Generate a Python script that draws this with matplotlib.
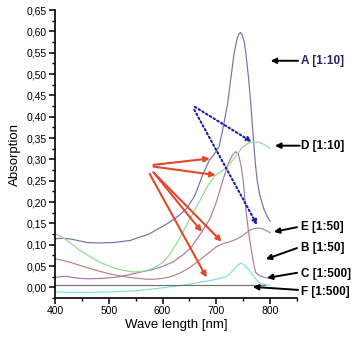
import matplotlib
matplotlib.use("Agg")
import matplotlib.pyplot as plt
from matplotlib.ticker import MultipleLocator, FuncFormatter

plt.rcParams['font.family'] = ['Liberation Sans', 'DejaVu Sans']

# ---- data ----
A_x = [400, 415, 430, 445, 460, 480, 510, 540, 575, 610, 630, 645, 660, 675, 687, 695, 705, 712, 721, 727, 733, 738, 742, 745, 748, 752, 755, 760, 764, 767, 770, 773, 776, 781, 788, 795, 800]
A_y = [0.114, 0.115, 0.113, 0.109, 0.105, 0.104, 0.105, 0.110, 0.125, 0.150, 0.168, 0.185, 0.215, 0.265, 0.298, 0.310, 0.330, 0.370, 0.431, 0.490, 0.548, 0.580, 0.594, 0.597, 0.592, 0.575, 0.548, 0.490, 0.431, 0.380, 0.330, 0.285, 0.250, 0.215, 0.185, 0.165, 0.155]

B_x = [400, 410, 420, 430, 445, 465, 490, 515, 540, 560, 580, 600, 620, 640, 655, 672, 688, 700, 712, 722, 730, 736, 741, 746, 750, 755, 760, 764, 768, 773, 780, 788, 795]
B_y = [0.023, 0.025, 0.026, 0.024, 0.021, 0.020, 0.021, 0.024, 0.030, 0.036, 0.041, 0.049, 0.060, 0.078, 0.097, 0.128, 0.160, 0.200, 0.250, 0.290, 0.310, 0.318, 0.312, 0.285, 0.250, 0.180, 0.130, 0.095, 0.065, 0.035, 0.027, 0.024, 0.022]

C_x = [400, 450, 500, 550, 588, 620, 650, 670, 693, 710, 720, 730, 738, 746, 752, 761, 770, 778, 785, 792, 800]
C_y = [-0.011, -0.012, -0.011, -0.008, -0.003, 0.002, 0.007, 0.012, 0.017, 0.022, 0.026, 0.038, 0.050, 0.057, 0.052, 0.040, 0.025, 0.013, 0.008, 0.006, 0.005]

D_x = [400, 410, 420, 430, 446, 465, 483, 500, 514, 530, 545, 560, 575, 588, 600, 612, 625, 640, 655, 670, 685, 698, 710, 722, 735, 748, 760, 770, 780, 790, 800]
D_y = [0.125, 0.120, 0.112, 0.103, 0.087, 0.072, 0.059, 0.050, 0.044, 0.039, 0.036, 0.037, 0.041, 0.048, 0.058, 0.075, 0.100, 0.135, 0.170, 0.205, 0.240, 0.262, 0.272, 0.285, 0.305, 0.328, 0.338, 0.341, 0.340, 0.334, 0.326]

E_x = [400, 415, 430, 450, 465, 485, 500, 520, 540, 555, 570, 585, 600, 615, 630, 645, 660, 675, 690, 700, 712, 725, 738, 750, 760, 770, 778, 786, 793, 800]
E_y = [0.067, 0.063, 0.058, 0.050, 0.044, 0.037, 0.032, 0.027, 0.023, 0.021, 0.019, 0.019, 0.021, 0.025, 0.032, 0.042, 0.055, 0.070, 0.085, 0.095, 0.102, 0.107, 0.113, 0.122, 0.132, 0.138, 0.139, 0.137, 0.133, 0.128]

F_x = [400, 500, 600, 700, 790]
F_y = [0.005, 0.005, 0.005, 0.005, 0.005]

labels = ["A [1:10]", "D [1:10]", "E [1:50]", "B [1:50]", "C [1:500]", "F [1:500]"]
label_y = [0.531, 0.332, 0.141, 0.092, 0.031, -0.011]
label_head = [(801, 0.531), (809, 0.332), (807, 0.130), (792, 0.066), (794, 0.022), (768, 0.001)]
label_tail = [(852, 0.531), (855, 0.332), (850, 0.141), (850, 0.092), (850, 0.034), (852, -0.006)]

red_tail = [(583, 0.287), (583, 0.283), (583, 0.270), (584, 0.268), (576, 0.266)]
red_head = [(688, 0.302), (699, 0.263), (673, 0.130), (710, 0.107), (682, 0.023)]

blue_tail = [(660, 0.423), (659, 0.416)]
blue_head = [(766, 0.341), (776, 0.146)]

# ---- figure ----
fig = plt.figure(figsize=(3.54, 3.41), dpi=100)
ax = fig.add_axes([55/354, 1 - 298/341, 242/354, 288/341])

lw = 0.85
ax.plot(A_x, A_y, color='#7272ac', lw=lw)
ax.plot(B_x, B_y, color='#a878aa', lw=lw)
ax.plot(C_x, C_y, color='#7fe0dc', lw=lw)
ax.plot(D_x, D_y, color='#8edc8e', lw=lw)
ax.plot(E_x, E_y, color='#b48484', lw=lw)
ax.plot(F_x, F_y, color='#707070', lw=lw)

ax.set_xlim(400, 850)
ax.set_ylim(-0.025, 0.65)

for s in ['top', 'right']:
    ax.spines[s].set_visible(False)
for s in ['left', 'bottom']:
    ax.spines[s].set_linewidth(1.2)

ax.set_xticks([400, 500, 600, 700, 800])
ax.xaxis.set_minor_locator(MultipleLocator(50))
ax.yaxis.set_major_locator(MultipleLocator(0.05))
ax.yaxis.set_minor_locator(MultipleLocator(0.025))
ax.yaxis.set_major_formatter(FuncFormatter(lambda v, p: f"{v:.2f}".replace('.', ',').replace('-0,00', '0,00')))
ax.tick_params(which='major', direction='out', length=4, width=1.1, labelsize=7.5, pad=2)
ax.tick_params(which='minor', direction='out', length=2.5, width=1.0)

ax.set_xlabel("Wave length [nm]", fontsize=9.5, labelpad=2)
ax.set_ylabel("Absorption", fontsize=9.5, labelpad=4)

# label arrows and texts
for i, (t, yv) in enumerate(zip(labels, label_y)):
    ax.annotate("", xy=label_head[i], xytext=label_tail[i],
                arrowprops=dict(arrowstyle='-|>', color='black', lw=1.4,
                                mutation_scale=8, shrinkA=0, shrinkB=0),
                annotation_clip=False)
    ax.text(857, yv, t, fontsize=8.5, fontweight='bold', va='center', ha='left',
            color='#22226a' if i == 0 else 'black', clip_on=False)

for tl, hd in zip(red_tail, red_head):
    ax.annotate("", xy=hd, xytext=tl,
                arrowprops=dict(arrowstyle='-|>', color='#e2492b', lw=1.5,
                                mutation_scale=8, shrinkA=0, shrinkB=0))

for tl, hd in zip(blue_tail, blue_head):
    ax.annotate("", xy=hd, xytext=tl,
                arrowprops=dict(arrowstyle='-|>', color='#1c1caa', lw=1.5,
                                linestyle=(0, (0.8, 1.3)),
                                mutation_scale=7, shrinkA=0, shrinkB=0))

fig.savefig("out.png", dpi=100)
